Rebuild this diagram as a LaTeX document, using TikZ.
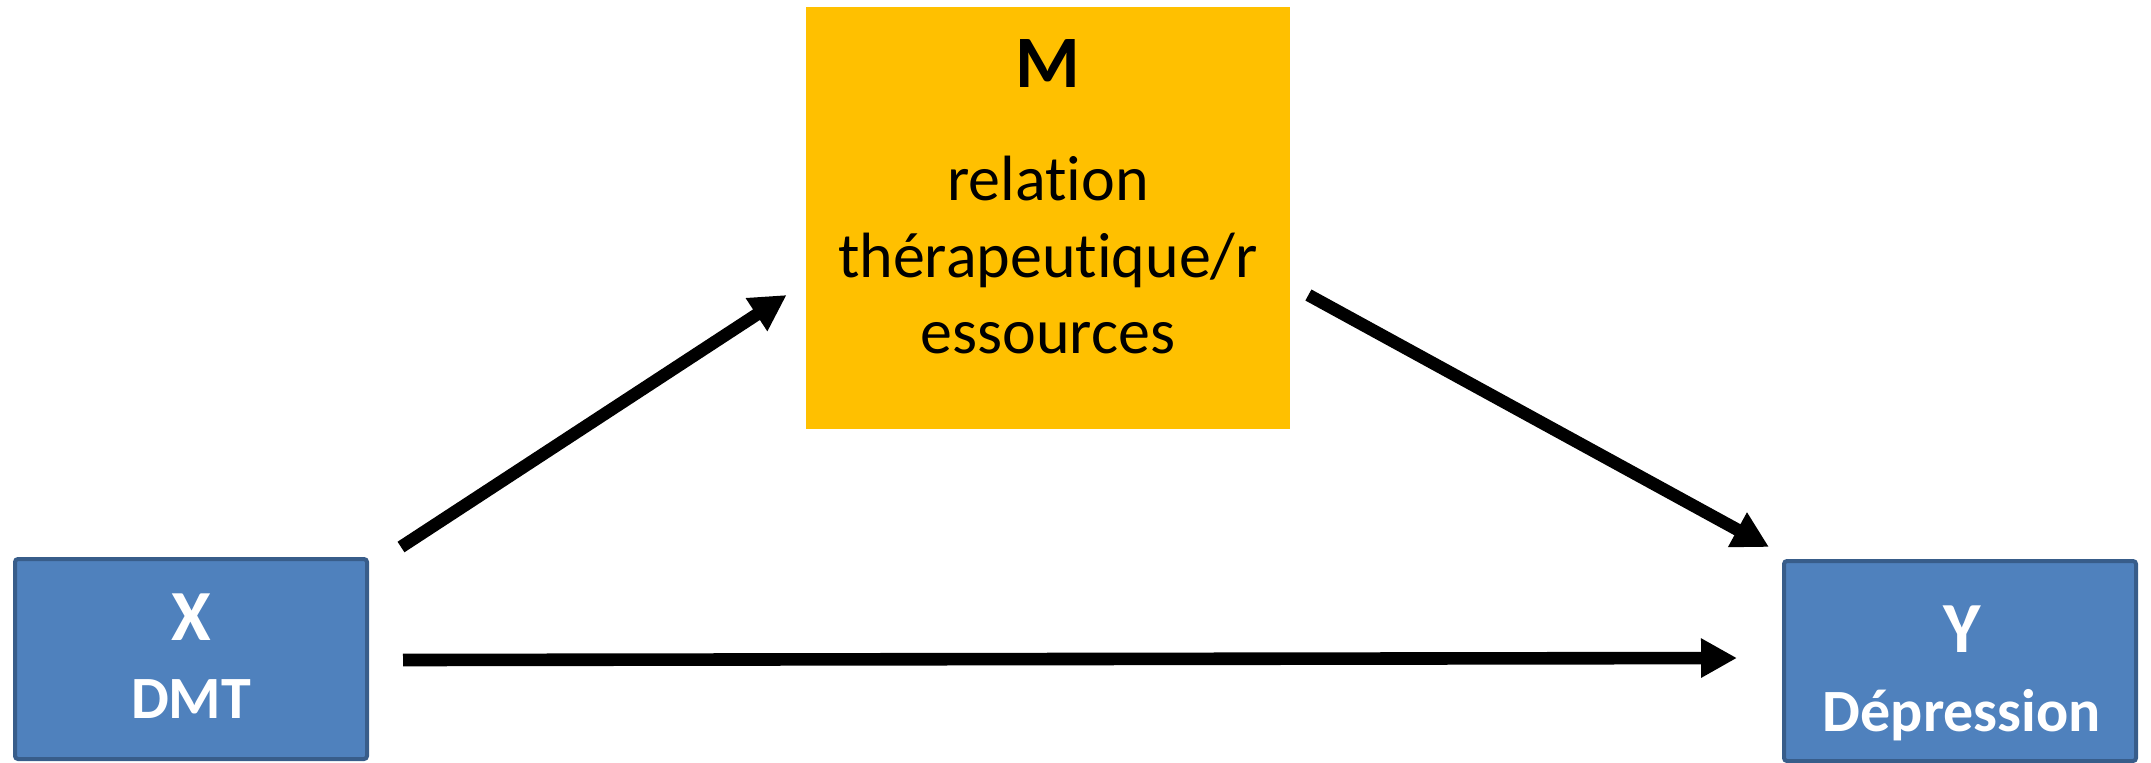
\documentclass[tikz,border=0pt]{standalone}
\usepackage{fontspec}
\setmainfont{Carlito}[Ligatures=NoCommon]
\usetikzlibrary{arrows.meta,calc}
\definecolor{boxblue}{HTML}{4F81BD}
\definecolor{boxedge}{HTML}{385D8A}
\definecolor{gold}{HTML}{FFC000}
\begin{document}
\begin{tikzpicture}[x=0.5pt,y=-0.5pt,
  varbox/.style={draw=boxedge, fill=boxblue, line width=2pt, rounded corners=1.5pt,
    minimum width=176pt, minimum height=100pt, inner sep=0pt},
  medbox/.style={fill=gold, minimum width=242pt, minimum height=211pt, inner sep=0pt},
  wtxt/.style={text=white, inner sep=0pt, anchor=base},
  btxt/.style={text=black, inner sep=0pt, anchor=base},
  conn/.style={line width=6.3pt, -{Triangle[length=18pt,width=18.5pt]}}]
\useasboundingbox (0,0) rectangle (2151,762);
\node[varbox] (X) at (191,659) {};
\node[varbox] (Y) at (1960,661) {};
\node[medbox] (M) at (1048,218) {};
% texts
\node[wtxt, font=\bfseries\fontsize{36}{40}\selectfont] (Xl) at (191,640) {X};
\node[wtxt, font=\bfseries\fontsize{30}{36}\selectfont] (Xn) at (191,718) {DMT};
\node[wtxt, font=\bfseries\fontsize{36}{40}\selectfont] (Yl) at (1962,652) {Y};
\node[wtxt, font=\bfseries\fontsize{30}{36}\selectfont] (Yn) at (1962,731) {Dépression};
\node[btxt, font=\bfseries\fontsize{37}{40}\selectfont] (Ml) at (1048,87) {M};
\node[btxt, font=\fontsize{32}{38.5}\selectfont] (M1) at (1048,200) {relation};
\node[btxt, font=\fontsize{32}{38.5}\selectfont] (M2) at (1048,277) {thérapeutique/r};
\node[btxt, font=\fontsize{32}{38.5}\selectfont] (M3) at (1048,353) {essources};
% connector ends
\coordinate (a1s) at ($(X.north east)+(32,-10)$);
\coordinate (a1e) at ($(M.west)+(-19,77)$);
\coordinate (a2s) at ($(M.east)+(18,77)$);
\coordinate (a2e) at ($(Y.north west)+(-13,-12)$);
\coordinate (a3s) at ($(X.east)+(34,1)$);
\coordinate (a3e) at ($(Y.west)+(-45,-3)$);
\draw[conn] (a1s) -- (a1e);
\draw[conn] (a2s) -- (a2e);
\draw[conn] (a3s) -- (a3e);
\end{tikzpicture}
\end{document}
